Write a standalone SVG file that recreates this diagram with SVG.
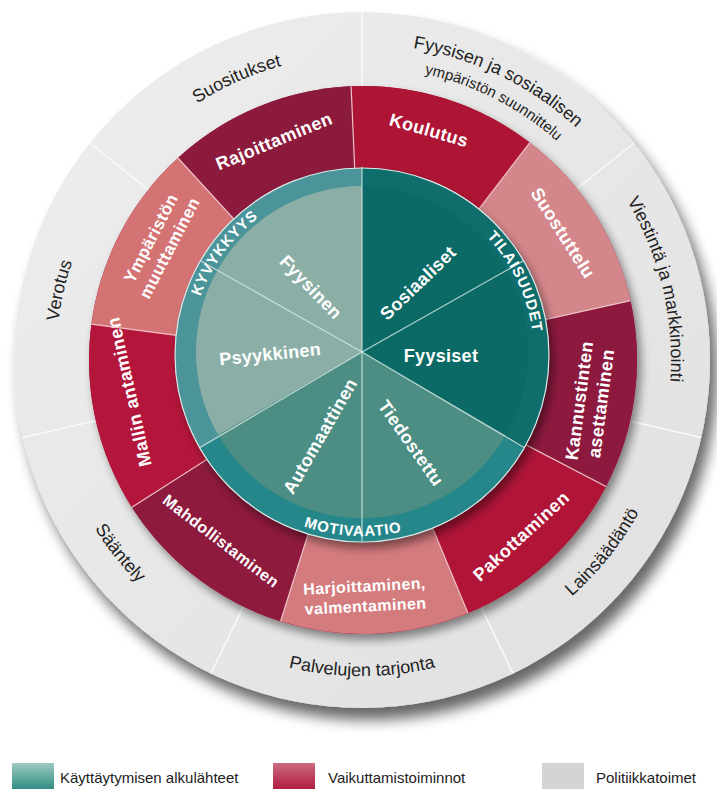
<svg xmlns="http://www.w3.org/2000/svg" width="717" height="789" viewBox="0 0 717 789">
<defs>
<style>
.pol{font-family:"Liberation Sans",Arial,sans-serif;font-size:18px;fill:#1f1f1f}
.int{font-family:"Liberation Sans",Arial,sans-serif;font-weight:bold;font-size:18px;fill:#fff;letter-spacing:0.4px}
.src{font-family:"Liberation Sans",Arial,sans-serif;font-weight:bold;font-size:18px;fill:#fff;letter-spacing:0.3px}
.band{font-family:"Liberation Sans",Arial,sans-serif;font-weight:bold;font-size:15px;fill:#fff;letter-spacing:0.8px}
.leg{font-family:"Liberation Sans",Arial,sans-serif;font-size:15px;fill:#222}
.gdiv{stroke:#fafafa;stroke-width:1.5}
.rdiv{stroke:#efc3c8;stroke-width:1.2}
.tdiv{stroke:#d3e6e2;stroke-width:1.2;stroke-opacity:0.85}
</style>
<filter id="shadow" x="-15%" y="-15%" width="135%" height="135%">
<feGaussianBlur in="SourceAlpha" stdDeviation="7"/>
<feOffset dx="7" dy="12"/>
<feComponentTransfer><feFuncA type="linear" slope="0.6"/></feComponentTransfer>
<feMerge><feMergeNode/><feMergeNode in="SourceGraphic"/></feMerge>
</filter>
<filter id="shadow2" x="-15%" y="-15%" width="135%" height="135%">
<feGaussianBlur in="SourceAlpha" stdDeviation="5"/>
<feOffset dx="4" dy="6"/>
<feComponentTransfer><feFuncA type="linear" slope="0.45"/></feComponentTransfer>
<feMerge><feMergeNode/><feMergeNode in="SourceGraphic"/></feMerge>
</filter>
<linearGradient id="grayg" x1="0" y1="0" x2="1" y2="1"><stop offset="0" stop-color="#eeeeee"/><stop offset="1" stop-color="#e0e0e0"/></linearGradient>
<linearGradient id="legT" x1="0" y1="0" x2="0" y2="1"><stop offset="0" stop-color="#9ccac1"/><stop offset="1" stop-color="#2e8a80"/></linearGradient>
<linearGradient id="legR" x1="0" y1="0" x2="0" y2="1"><stop offset="0" stop-color="#cc6a80"/><stop offset="1" stop-color="#b01a3e"/></linearGradient>
<path id="pSuos" d="M58.7,328.1 A305,305 0 0 1 541.3,113.3"/>
<path id="pFyy1" d="M185.3,98 A316,316 0 0 1 677.2,338"/>
<path id="pFyy2" d="M202.4,114.3 A293,293 0 0 1 654.6,344.7"/>
<path id="pVies" d="M449.8,63.7 A309,309 0 0 1 574.7,584.1"/>
<path id="pVero" d="M153.3,583.8 A306,306 0 0 1 272.5,67.4"/>
<path id="pSaan" d="M67.8,244.7 A316,316 0 0 0 409.2,672.5"/>
<path id="pPalv" d="M88.3,518 A316,316 0 0 0 635.7,518"/>
<path id="pLain" d="M314.8,672.5 A316,316 0 0 0 656.2,244.7"/>
<path id="pKyv" d="M204.3,423.6 A172,172 0 0 1 381.5,184.1"/>
<path id="pTila" d="M375.5,183.5 A172,172 0 0 1 503.7,452.4"/>
<path id="pMoti" d="M200.7,437.2 A181,181 0 0 0 513.8,453.6"/>
</defs>
<rect width="717" height="789" fill="#ffffff"/>

<!-- Policy ring -->
<circle cx="362" cy="360" r="348" fill="url(#grayg)" filter="url(#shadow)"/>
<g id="policy-dividers">
<line class="gdiv" x1="362" y1="86" x2="362" y2="12"/>
<line class="gdiv" x1="573.1" y1="191.7" x2="634.1" y2="143"/>
<line class="gdiv" x1="625.2" y1="420.1" x2="701.3" y2="437.4"/>
<line class="gdiv" x1="479.2" y1="603.3" x2="513" y2="673.5"/>
<line class="gdiv" x1="244.8" y1="603.3" x2="211" y2="673.5"/>
<line class="gdiv" x1="98.8" y1="420.1" x2="22.7" y2="437.4"/>
<line class="gdiv" x1="150.9" y1="191.7" x2="89.9" y2="143"/>
</g>
<g id="pol-suositukset"><text class="pol"><textPath href="#pSuos" startOffset="50%" text-anchor="middle">Suositukset</textPath></text></g>
<g id="pol-fyysisen"><text class="pol"><textPath href="#pFyy1" startOffset="50%" text-anchor="middle">Fyysisen ja sosiaalisen</textPath></text>
<text class="pol" style="font-size:15px"><textPath href="#pFyy2" startOffset="50%" text-anchor="middle">ympäristön suunnittelu</textPath></text></g>
<g id="pol-viestinta"><text class="pol"><textPath href="#pVies" startOffset="50%" text-anchor="middle">Viestintä ja markkinointi</textPath></text></g>
<g id="pol-lainsaadanto"><text class="pol"><textPath href="#pLain" startOffset="50%" text-anchor="middle">Lainsäädäntö</textPath></text></g>
<g id="pol-palvelujen"><text class="pol"><textPath href="#pPalv" startOffset="50%" text-anchor="middle">Palvelujen tarjonta</textPath></text></g>
<g id="pol-saantely"><text class="pol"><textPath href="#pSaan" startOffset="50%" text-anchor="middle">Sääntely</textPath></text></g>
<g id="pol-verotus"><text class="pol"><textPath href="#pVero" startOffset="50%" text-anchor="middle">Verotus</textPath></text></g>

<!-- Intervention ring -->
<circle cx="363" cy="360" r="274" fill="#a01a3a" filter="url(#shadow2)"/>
<g id="int-suostuttelu"><path d="M363,360 L630.5,300.7 A274,274 0 0 0 529.8,142.6 Z" fill="#d4878b"/>
<text class="int" transform="translate(563,233) rotate(57.5)" text-anchor="middle" dy="0.35em">Suostuttelu</text></g>
<g id="int-koulutus"><path d="M363,360 L529.8,142.6 A274,274 0 0 0 351.1,86.3 Z" fill="#ae1535"/>
<text class="int" transform="translate(429,130) rotate(16)" text-anchor="middle" dy="0.35em">Koulutus</text></g>
<g id="int-rajoittaminen"><path d="M363,360 L351.1,86.3 A274,274 0 0 0 177.9,158 Z" fill="#8b1a3d"/>
<text class="int" transform="translate(274,141) rotate(-22.5)" text-anchor="middle" dy="0.35em">Rajoittaminen</text></g>
<g id="int-ymparisto"><path d="M363,360 L177.9,158 A274,274 0 0 0 91.4,324.2 Z" fill="#d47374"/>
<text class="int" style="font-size:17px" transform="translate(160,243) rotate(-62.5)" text-anchor="middle"><tspan x="0" y="-4.5">Ympäristön</tspan><tspan x="0" y="16.5">muuttaminen</tspan></text></g>
<g id="int-mallin"><path d="M363,360 L91.4,324.2 A274,274 0 0 0 131.9,507.2 Z" fill="#b3163a"/>
<text class="int" transform="translate(129,392) rotate(-102.5)" text-anchor="middle" dy="0.35em">Mallin antaminen</text></g>
<g id="int-mahdollistaminen"><path d="M363,360 L131.9,507.2 A274,274 0 0 0 280.6,621.3 Z" fill="#8e1a3e"/>
<text class="int" style="font-size:16px" transform="translate(221,541) rotate(37.5)" text-anchor="middle" dy="0.35em">Mahdollistaminen</text></g>
<g id="int-harjoittaminen"><path d="M363,360 L280.6,621.3 A274,274 0 0 0 467.9,613.1 Z" fill="#d47b7e"/>
<text class="int" style="font-size:16px" transform="translate(365,596) rotate(-3)" text-anchor="middle"><tspan x="0" y="-4.4">Harjoittaminen,</tspan><tspan x="0" y="15.6">valmentaminen</tspan></text></g>
<g id="int-pakottaminen"><path d="M363,360 L467.9,613.1 A274,274 0 0 0 606,486.5 Z" fill="#b01538"/>
<text class="int" transform="translate(521,536) rotate(-42.5)" text-anchor="middle" dy="0.35em">Pakottaminen</text></g>
<g id="int-kannustinten"><path d="M363,360 L606,486.5 A274,274 0 0 0 630.5,300.7 Z" fill="#8d1a3e"/>
<text class="int" transform="translate(590,402) rotate(-82.5)" text-anchor="middle"><tspan x="0" y="-4.7">Kannustinten</tspan><tspan x="0" y="17.3">asettaminen</tspan></text></g>
<g id="intervention-dividers">
<line class="rdiv" x1="363" y1="360" x2="630.5" y2="300.7"/>
<line class="rdiv" x1="363" y1="360" x2="529.8" y2="142.6"/>
<line class="rdiv" x1="363" y1="360" x2="351.1" y2="86.3"/>
<line class="rdiv" x1="363" y1="360" x2="177.9" y2="158"/>
<line class="rdiv" x1="363" y1="360" x2="91.4" y2="324.2"/>
<line class="rdiv" x1="363" y1="360" x2="131.9" y2="507.2"/>
<line class="rdiv" x1="363" y1="360" x2="280.6" y2="621.3"/>
<line class="rdiv" x1="363" y1="360" x2="467.9" y2="613.1"/>
<line class="rdiv" x1="363" y1="360" x2="606" y2="486.5"/>
</g>

<!-- Sources of behaviour -->
<circle cx="362" cy="355" r="187" fill="#2a8a8c" filter="url(#shadow2)"/>
<g id="band-kyvykkyys"><path d="M362,355 L362,168 A187,187 0 0 0 200.1,448.5 Z" fill="#4b9499"/></g>
<g id="band-motivaatio"><path d="M362,355 L200.1,448.5 A187,187 0 0 0 523.9,448.5 Z" fill="#25878a"/></g>
<g id="band-tilaisuudet"><path d="M362,355 L523.9,448.5 A187,187 0 0 0 362,168 Z" fill="#0f6e6c"/></g>
<g id="src-fyysinen-psyykkinen-area"><path d="M362,352 L362,186 A166,166 0 0 0 218.2,435 Z" fill="#8bafa6"/></g>
<g id="src-motivation-area"><path d="M362,352 L218.2,435 A166,166 0 0 0 505.8,435 Z" fill="#4c8e83"/></g>
<g id="src-opportunity-area"><path d="M362,352 L505.8,435 A166,166 0 0 0 362,186 Z" fill="#0b6a66"/></g>
<circle cx="362" cy="355" r="187" fill="none" stroke="#dbe9e7" stroke-width="1.2"/>
<g id="source-dividers">
<line class="tdiv" x1="362" y1="352" x2="524" y2="260.5"/>
<line class="tdiv" x1="362" y1="352" x2="362" y2="167"/>
<line class="tdiv" x1="362" y1="352" x2="200" y2="260.5"/>
<line class="tdiv" x1="362" y1="352" x2="200" y2="447.5"/>
<line class="tdiv" x1="362" y1="352" x2="362" y2="541"/>
<line class="tdiv" x1="362" y1="352" x2="524" y2="447.5"/>
</g>
<g id="src-fyysinen"><text class="src" transform="translate(311,287) rotate(46)" text-anchor="middle" dy="0.35em">Fyysinen</text></g>
<g id="src-psyykkinen"><text class="src" transform="translate(270,354) rotate(-6)" text-anchor="middle" dy="0.35em">Psyykkinen</text></g>
<g id="src-automaattinen"><text class="src" transform="translate(320,436) rotate(-60)" text-anchor="middle" dy="0.35em">Automaattinen</text></g>
<g id="src-tiedostettu"><text class="src" transform="translate(411,443) rotate(55)" text-anchor="middle" dy="0.35em">Tiedostettu</text></g>
<g id="src-fyysiset"><text class="src" transform="translate(441,356)" text-anchor="middle" dy="0.35em">Fyysiset</text></g>
<g id="src-sosiaaliset"><text class="src" transform="translate(418,283) rotate(-44)" text-anchor="middle" dy="0.35em">Sosiaaliset</text></g>
<g id="lbl-kyvykkyys"><text class="band"><textPath href="#pKyv" startOffset="50%" text-anchor="middle">KYVYKKYYS</textPath></text></g>
<g id="lbl-tilaisuudet"><text class="band"><textPath href="#pTila" startOffset="50%" text-anchor="middle">TILAISUUDET</textPath></text></g>
<g id="lbl-motivaatio"><text class="band"><textPath href="#pMoti" startOffset="50%" text-anchor="middle">MOTIVAATIO</textPath></text></g>

<!-- Legend -->
<g id="legend-sources"><rect x="12" y="763" width="42" height="27" fill="url(#legT)"/><text class="leg" x="60" y="783">Käyttäytymisen alkulähteet</text></g>
<g id="legend-interventions"><rect x="273" y="763" width="42" height="27" fill="url(#legR)"/><text class="leg" x="328" y="783">Vaikuttamistoiminnot</text></g>
<g id="legend-policies"><rect x="542" y="763" width="42" height="27" fill="#d4d4d4"/><text class="leg" x="596" y="783">Politiikkatoimet</text></g>
</svg>
